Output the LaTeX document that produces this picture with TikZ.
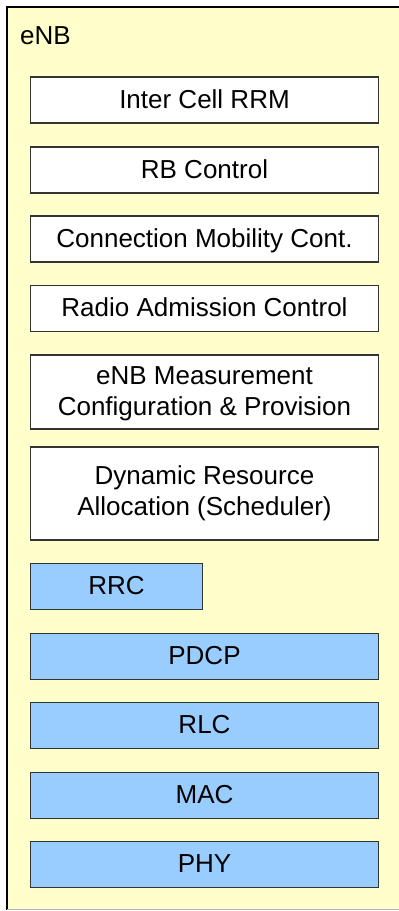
\documentclass[tikz,border=0pt]{standalone}
\usepackage{fontspec}
\setmainfont{Liberation Sans}
\definecolor{enbyellow}{HTML}{FFFFCC}
\definecolor{layerblue}{HTML}{99CCFF}
\definecolor{boxline}{HTML}{333333}
\begin{document}
\begin{tikzpicture}[x=1pt,y=-1pt,
  every node/.style={font=\fontsize{26}{31}\selectfont, inner sep=0pt},
  funcbox/.style={draw=boxline, line width=1.3pt, fill=white, minimum width=348pt, text height=16pt, text depth=0pt},
  layerbox/.style={draw=boxline, line width=1.3pt, fill=layerblue, minimum width=348pt, minimum height=46pt, text height=16pt, text depth=0pt},
  linelabel/.style={anchor=base}]
\useasboundingbox (0,0) rectangle (399,911);
% eNB frame
\fill[enbyellow] (7,7) rectangle (405,909.5);
\draw[black, line width=1.5pt] (7,909.5) -- (7,7) -- (405,7);
\draw[black!30, line width=1pt] (7,909.5) -- (405,909.5);
\node[anchor=base west] (enb) at (20,44) {eNB};
% functional boxes
\node[funcbox, minimum height=46pt] (icr) at (204.5,100) {Inter Cell RRM};
\node[funcbox, minimum height=46pt] (rbc) at (204.5,170) {RB Control};
\node[funcbox, minimum height=46pt] (cmc) at (204.5,239) {Connection Mobility Cont.};
\node[funcbox, minimum height=46pt] (rac) at (204.5,308.5) {Radio Admission Control};
\node[funcbox, minimum height=74pt] (meas) at (204.5,392) {};
\node[linelabel] (meas1) at (204.5,384) {eNB Measurement};
\node[linelabel] (meas2) at (204.5,415) {Configuration \& Provision};
\node[funcbox, minimum height=93pt] (dra) at (204.5,493.5) {};
\node[linelabel] (dra1) at (204.5,484.5) {Dynamic Resource};
\node[linelabel] (dra2) at (204.5,515) {Allocation (Scheduler)};
% protocol layers
\node[layerbox, minimum width=172pt] (rrc) at (116.5,586.8) {RRC};
\node[layerbox] (pdcp) at (204.5,656.3) {PDCP};
\node[layerbox] (rlc) at (204.5,725.6) {RLC};
\node[layerbox] (mac) at (204.5,795.2) {MAC};
\node[layerbox] (phy) at (204.5,864.6) {PHY};
\end{tikzpicture}
\end{document}
